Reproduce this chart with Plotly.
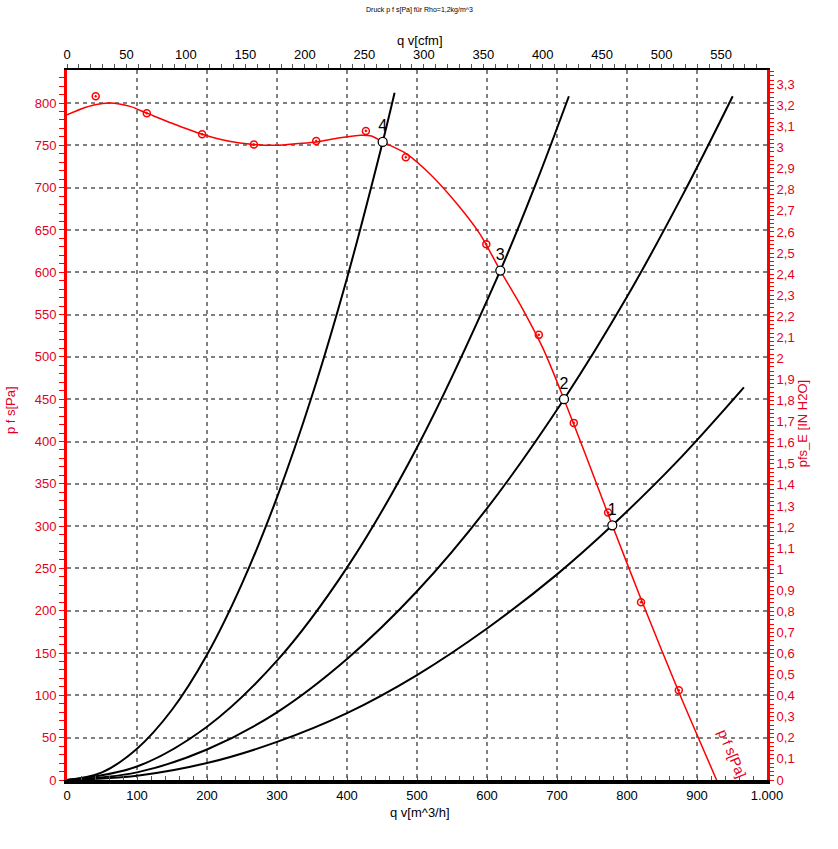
import plotly.graph_objects as go

# ---------------- data ----------------
# fan curve (smooth line) q v [m^3/h] -> p f s [Pa]
fan_q = [0, 20, 40, 61, 90, 114, 150, 193, 230, 267, 300, 330, 356, 390, 420, 435,
         451, 485, 520, 560, 590, 619, 650, 680, 710, 740, 779, 820, 874, 928]
fan_p = [786, 793, 798, 800, 796, 788, 776, 763, 755, 751, 750, 752, 754, 759, 762, 761,
         754, 740, 715, 678, 645, 602, 558, 510, 450, 386, 301, 214, 104, 0]

# measured points on the fan curve
meas_q = [41, 114, 193, 267, 356, 427, 484, 599, 674, 724, 773, 820, 874]
meas_p = [808, 788, 763, 751, 755, 767, 736, 633, 526, 422, 316, 210, 106]

# system curves
sys1_q = [0, 100, 200, 300, 400, 500, 600, 700, 779, 870, 967]
sys1_p = [0, 5, 20, 45, 79, 124, 179, 243, 301, 375, 464]
sys2_q = [0, 100, 200, 300, 400, 500, 600, 710, 800, 880, 951]
sys2_p = [0, 9, 36, 80, 143, 223, 321, 450, 571, 692, 808]
sys3_q = [0, 100, 200, 300, 400, 500, 619, 670, 717]
sys3_p = [0, 16, 63, 141, 251, 393, 602, 705, 808]
sys4_q = [0, 50, 100, 150, 200, 250, 300, 350, 400, 451, 468]
sys4_p = [0, 9, 37, 83, 148, 232, 334, 454, 593, 754, 812]

# operating points
op_q = [779, 710, 619, 451]
op_p = [301, 450, 602, 754]
op_labels = ["1", "2", "3", "4"]

# tick labels
bottom_vals = [0, 100, 200, 300, 400, 500, 600, 700, 800, 900, 1000]
bottom_text = ["0", "100", "200", "300", "400", "500", "600", "700", "800", "900", "1.000"]
left_vals = [0, 50, 100, 150, 200, 250, 300, 350, 400, 450, 500, 550, 600, 650, 700, 750, 800]
top_vals = [0, 50, 100, 150, 200, 250, 300, 350, 400, 450, 500, 550]
right_vals = [0, 0.1, 0.2, 0.3, 0.4, 0.5, 0.6, 0.7, 0.8, 0.9, 1.0, 1.1, 1.2, 1.3, 1.4, 1.5, 1.6,
              1.7, 1.8, 1.9, 2.0, 2.1, 2.2, 2.3, 2.4, 2.5, 2.6, 2.7, 2.8, 2.9, 3.0, 3.1, 3.2, 3.3]
right_text = ["0", "0,1", "0,2", "0,3", "0,4", "0,5", "0,6", "0,7", "0,8", "0,9", "1", "1,1",
              "1,2", "1,3", "1,4", "1,5", "1,6", "1,7", "1,8", "1,9", "2", "2,1", "2,2", "2,3",
              "2,4", "2,5", "2,6", "2,7", "2,8", "2,9", "3", "3,1", "3,2", "3,3"]

Q_MAX = 1000
P_MAX = 839
CFM_PER_M3H = 0.58858
PA_PER_INH2O = 249.089

RED = "#ff0000"
RED_TXT = "#e3001b"
FONT = "Liberation Sans, Arial, sans-serif"

fig = go.Figure()

for q, p in [(sys1_q, sys1_p), (sys2_q, sys2_p), (sys3_q, sys3_p), (sys4_q, sys4_p)]:
    fig.add_trace(go.Scatter(x=q, y=p, mode="lines", line=dict(color="black", width=2, shape="spline"),
                             hoverinfo="skip", showlegend=False))

fig.add_trace(go.Scatter(x=fan_q, y=fan_p, mode="lines",
                         line=dict(color=RED, width=1.5, shape="spline", smoothing=0.8),
                         showlegend=False))
fig.add_trace(go.Scatter(x=meas_q, y=meas_p, mode="markers",
                         marker=dict(symbol="circle-open-dot", size=7, color=RED, line=dict(width=1.5)),
                         showlegend=False))
fig.add_trace(go.Scatter(x=op_q, y=op_p, mode="markers+text", text=op_labels,
                         textposition="top center", textfont=dict(family=FONT, size=16, color="black"),
                         marker=dict(symbol="circle", size=9, color="white", line=dict(color="black", width=1.3)),
                         showlegend=False))

# helper traces so the top and right axes are drawn
fig.add_trace(go.Scatter(x=[0], y=[0], xaxis="x2", yaxis="y", mode="markers",
                         marker=dict(opacity=0), hoverinfo="skip", showlegend=False))
fig.add_trace(go.Scatter(x=[0], y=[0], xaxis="x", yaxis="y2", mode="markers",
                         marker=dict(opacity=0), hoverinfo="skip", showlegend=False))

grid = dict(showgrid=True, gridcolor="#808080", gridwidth=1.5, griddash="4px,4px")

def ann(text, x, y, color="black", size=13, angle=0):
    return dict(text=text, x=x, y=y, xref="paper", yref="paper", showarrow=False,
                xanchor="center", yanchor="middle", textangle=angle,
                font=dict(family=FONT, size=size, color=color))

fig.update_layout(
    width=838, height=849,
    margin=dict(l=67, r=71, t=70, b=69, autoexpand=False),
    paper_bgcolor="white", plot_bgcolor="white",
    font=dict(family=FONT, size=13, color="black"),
    showlegend=False,
    xaxis=dict(range=[0, Q_MAX], tickmode="array", tickvals=bottom_vals, ticktext=bottom_text,
               automargin=False,
               showline=True, linecolor="black", linewidth=4, mirror=False,
               ticks="inside", ticklen=4, tickcolor="#555555", tickfont=dict(size=13, color="black"),
               minor=dict(ticks="inside", dtick=20, tick0=0, ticklen=4, tickcolor="#555555", showgrid=False),
               zeroline=False, **grid),
    xaxis2=dict(range=[0, Q_MAX * CFM_PER_M3H], overlaying="x", side="top", anchor="y",
                automargin=False,
                tickmode="array", tickvals=top_vals, ticktext=[str(v) for v in top_vals],
                showline=True, linecolor="black", linewidth=2,
                ticks="outside", ticklen=4, tickcolor="#555555", tickfont=dict(size=13, color="black"),
                minor=dict(ticks="outside", dtick=10, tick0=0, ticklen=4, tickcolor="#555555"),
                showgrid=False, zeroline=False),
    yaxis=dict(range=[0, P_MAX], tickmode="array", tickvals=left_vals, ticktext=[str(v) for v in left_vals],
               automargin=False,
               showline=True, linecolor=RED, linewidth=3,
               ticks="outside", ticklen=5, tickcolor=RED, tickfont=dict(size=13, color=RED_TXT),
               minor=dict(ticks="outside", dtick=10, tick0=0, ticklen=5, tickcolor=RED, showgrid=False),
               zeroline=False, **grid),
    yaxis2=dict(range=[0, P_MAX / PA_PER_INH2O], overlaying="y", side="right", anchor="x",
                automargin=False,
                tickmode="array", tickvals=right_vals, ticktext=right_text,
                showline=True, linecolor=RED, linewidth=3,
                ticks="outside", ticklen=4, tickcolor=RED, tickfont=dict(size=13, color=RED_TXT),
                minor=dict(ticks="outside", dtick=0.02, tick0=0, ticklen=4, tickcolor=RED),
                showgrid=False, zeroline=False),
    annotations=[
        ann("Druck p f s[Pa] für Rho=1,2kg/m^3", 0.504, 1.0845, size=7),
        ann("q v[cfm]", 0.504, 1.041, size=13),
        ann("q v[m^3/h]", 0.504, -0.046, size=13),
        ann("p f s[Pa]", -0.0814, 0.521, color=RED_TXT, size=13, angle=-90),
        ann("pfs_E [IN H2O]", 1.05, 0.501, color=RED_TXT, size=13, angle=-90),
        dict(x=950, y=32, xref="x", yref="y", text="p f s[Pa]", showarrow=False,
             textangle=67, font=dict(size=14, color=RED_TXT, family=FONT)),
    ],
)

fig.write_html("out.html", config={"displayModeBar": False},
               post_script="document.body.style.margin='0';")
